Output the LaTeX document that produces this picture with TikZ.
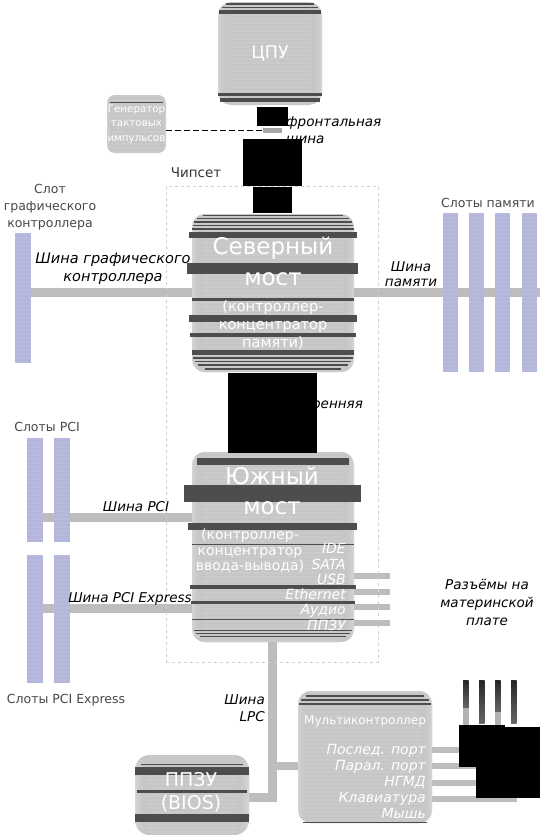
\documentclass[tikz,border=0pt]{standalone}
\usepackage{fontspec}
\setmainfont{DejaVu Sans}
\usetikzlibrary{calc}
\definecolor{chipgray}{HTML}{C6C6C6}
\definecolor{bardark}{HTML}{4D4D4D}
\definecolor{busgray}{HTML}{BDBDBD}
\definecolor{slotblue}{HTML}{B3B5DB}
\definecolor{dashgray}{HTML}{CFCFCF}
\begin{document}
\begin{tikzpicture}[x=1pt,y=-1pt,
  box/.style={inner sep=0pt, outer sep=0pt, anchor=north west},
  striped/.style={path picture={\foreach \k in {0,4,...,240}{\fill[white,opacity=0.07] ($(path picture bounding box.north west)+(0,\k)$) rectangle ($(path picture bounding box.north east)+(0,\k+2)$);}}},
  chip/.style={box, fill=chipgray, rounded corners=13pt, striped},
  slot/.style={box, fill=slotblue, striped},
  blk/.style={box, fill=black},
  bus/.style={draw=busgray, line width=#1},
  bus/.default=9pt,
  dk/.style={fill=bardark},
  wt/.style={text=white, align=center, inner sep=0pt},
  lab/.style={font=\itshape\fontsize{13.5}{18}\selectfont, align=center, inner sep=0pt},
  slab/.style={font=\fontsize{12.5}{17}\selectfont, text=black!72, align=center, inner sep=0pt},
]
\useasboundingbox (0,0) rectangle (540,835);

% ---------- chips (nodes) ----------
\node[chip, minimum width=104, minimum height=103] (cpu) at (218,2) {};
\node[chip, minimum width=59, minimum height=58, rounded corners=8pt] (clk) at (107,95) {};
\node[chip, minimum width=162, minimum height=158] (nb) at (192,214) {};
\node[chip, minimum width=162, minimum height=190] (sb) at (192,452) {};
\node[chip, minimum width=134, minimum height=132] (mc) at (298,691) {};
\node[chip, minimum width=114, minimum height=80, rounded corners=15pt] (bios) at (135,755) {};

% ---------- buses ----------
\coordinate (pcibus) at (35,517);
\coordinate (pciebus) at (35,608);
\coordinate (membus) at (540,292);
\coordinate (lpcend) at (272.5,802);
\coordinate (lpcmc) at (272.5,766);
\draw[bus] (23,292) -- (nb.west |- membus);
\draw[bus] (nb.east |- membus) -- (membus);
\draw[bus] (pcibus) -- (sb.west |- pcibus);
\draw[bus] (pciebus) -- (sb.west |- pciebus);
\foreach \yy/\nm in {576/ca,592/cb,607/cc,623/cd}{
  \coordinate (\nm) at (390,\yy);
  \draw[bus=6pt] (sb.east |- \nm) -- (\nm);
}
\draw[bus] (sb.south -| lpcend) -- (lpcend);
\draw[bus=8pt] (lpcmc) -- (mc.west |- lpcmc);
\draw[bus] (bios.east |- 0,797.5) -- (lpcend |- 0,797.5);
\foreach \yy/\nm in {750/ma,766/mb,783/mcc,799/md}{
  \coordinate (\nm) at (517,\yy);
  \draw[bus=6pt] (mc.east |- \nm) -- (\nm);
}

% redraw chip bodies over the buses
\node[chip, minimum width=162, minimum height=158] at (192,214) {};
\node[chip, minimum width=162, minimum height=190] at (192,452) {};
\node[chip, minimum width=134, minimum height=132] at (298,691) {};
\node[chip, minimum width=114, minimum height=80, rounded corners=15pt] at (135,755) {};

% slots
\node[slot, minimum width=16, minimum height=130] (agp) at (15,233) {};
\foreach \xx/\nm in {443/mema,469/memb,495/memc,522/memd}
  \node[slot, minimum width=15, minimum height=159] (\nm) at (\xx,213) {};
\node[slot, minimum width=16, minimum height=104] (pcia) at (27,438) {};
\node[slot, minimum width=16, minimum height=104] (pcib) at (54,438) {};
\node[slot, minimum width=16, minimum height=128] (pciea) at (27,555) {};
\node[slot, minimum width=16, minimum height=128] (pcieb) at (54,555) {};

% chipset frame
\node[box, draw=dashgray, dashed, line width=0.8pt, minimum width=212, minimum height=476] (chipset) at (166,186) {};
\node[font=\fontsize{13.5}{16}\selectfont, text=black!80, inner sep=0pt] (chiplbl) at (196,173) {Чипсет};

% ---------- dark bars ----------
% CPU
\fill[dk] (226,3) rectangle (314,4.5);
\fill[dk] (222,6.5) rectangle (318,8);
\fill[dk] (219,9.5) rectangle (321,14);
\fill[dk] (218,92.5) rectangle (322,95.5);
\fill[dk] (220,97.5) rectangle (320,102);
% clock
\fill[dk] (110,101.5) rectangle (163,103);
% north bridge
\fill[dk] (203,214.5) rectangle (343,216);
\fill[dk] (197,217.5) rectangle (349,219);
\fill[dk] (194,221) rectangle (352,222.5);
\fill[dk] (193,224.5) rectangle (353,226);
\fill[dk] (192,228) rectangle (354,229.5);
\fill[dk] (189,232) rectangle (357,238);
\fill[dk] (187,263) rectangle (358,274);
\fill[dk] (192,298) rectangle (354,300.5);
\fill[dk] (189,315) rectangle (357,322);
\fill[dk] (190,333) rectangle (356,337);
\fill[dk] (192,350) rectangle (354,355);
\fill[dk] (193,357) rectangle (353,358.5);
\fill[dk] (195,360.5) rectangle (351,362);
\fill[dk] (198,364) rectangle (348,365.5);
\fill[dk] (205,368) rectangle (341,369.5);
% south bridge
\fill[dk] (197,458) rectangle (349,465);
\fill[dk] (184,485) rectangle (361,502);
\fill[dk] (188,523) rectangle (357,530);
\fill[dk] (192,543.5) rectangle (354,545);
\fill[dk] (190,585) rectangle (356,588.5);
\fill[dk] (191,601) rectangle (355,604);
\fill[dk] (192,618.5) rectangle (354,620);
\fill[dk] (194,629.5) rectangle (352,631);
\fill[dk] (196,632.5) rectangle (350,634);
\fill[dk] (200,635.5) rectangle (346,637);
% multicontroller
\fill[dk] (306,695) rectangle (424,696.5);
\fill[dk] (301,699) rectangle (429,700.5);
\fill[dk] (299,703) rectangle (431,704.5);
\fill[dk] (303,821.5) rectangle (427,823);
% BIOS
\fill[dk] (141,763.5) rectangle (243,764.7);
\fill[dk] (135,767) rectangle (249,775);
\fill[dk] (137,789.5) rectangle (247,793);
\fill[dk] (135,814) rectangle (249,822);

% ---------- texts in chips ----------
\node[wt, font=\fontsize{17.5}{20}\selectfont] (cput) at (cpu.center) {ЦПУ};
\node[wt, font=\fontsize{10.3}{14.5}\selectfont] (clkt) at (clk.center) {Генератор\\тактовых\\импульсов};
\node[wt, font=\fontsize{23}{26}\selectfont] (nbt1) at (273,248) {Северный};
\node[wt, font=\fontsize{23}{26}\selectfont] (nbt2) at (273,279) {мост};
\node[wt, font=\fontsize{14.5}{18}\selectfont] (nbt3) at (273,325) {(контроллер-\\концентратор\\памяти)};
\node[wt, font=\fontsize{23}{26}\selectfont] (sbt1) at (272,476) {Южный};
\node[wt, font=\fontsize{23}{26}\selectfont] (sbt2) at (272,508) {мост};
\node[wt, font=\fontsize{14}{15.5}\selectfont] (sbt3) at (250,551) {(контроллер-\\концентратор\\ввода-вывода)};
\node[wt, align=right, anchor=east, font=\itshape\fontsize{14}{15.3}\selectfont] (sbports) at (346,587) {IDE\\SATA\\USB\\Ethernet\\Аудио\\ППЗУ};
\node[wt, font=\fontsize{12}{14}\selectfont] (mct) at (365,721) {Мультиконтроллер};
\node[wt, align=right, anchor=east, font=\itshape\fontsize{14}{16}\selectfont] (mcports) at (426,781) {Послед. порт\\Парал. порт\\НГМД\\Клавиатура\\Мышь};
\node[wt, font=\fontsize{19}{23}\selectfont] (biost) at (191,792) {ППЗУ\\(BIOS)};

% ---------- labels ----------
\node[lab, font=\itshape\fontsize{14.5}{18}\selectfont] (agpbusl) at (113,269) {Шина графического\\контроллера};
\node[lab, font=\itshape\fontsize{13.5}{15}\selectfont] (membusl) at (411,274) {Шина\\памяти};
\node[lab] (pcibusl) at (136,507) {Шина PCI};
\node[lab] (pciebusl) at (130,599) {Шина PCI Express};
\node[lab, align=right, anchor=east, font=\itshape\fontsize{13.5}{17}\selectfont] (lpcl) at (265,708) {Шина\\LPC};
\node[lab] (connl) at (487,602) {Разъёмы на\\материнской\\плате};
\node[lab, align=left, anchor=west, font=\itshape\fontsize{13.5}{17}\selectfont] (fsbl) at (286,130) {фронтальная\\шина};
\node[lab, align=left, anchor=west, font=\itshape\fontsize{13.5}{16}\selectfont] (intl) at (278,412) {Внутренняя\\шина};
\node[slab] (agpl) at (50,207) {Слот\\графического\\контроллера};
\node[slab] (meml) at (488,203) {Слоты памяти};
\node[slab] (pcil) at (47,427) {Слоты PCI};
\node[slab] (pciel) at (66,700) {Слоты PCI Express};

% ---------- black blocks ----------
\node[blk, minimum width=31, minimum height=19] (fsba) at (257,107) {};
\node[box, fill=black!35, minimum width=19, minimum height=5] (fsbg) at (263,128) {};
\node[blk, minimum width=59, minimum height=47] (fsbb) at (243,139) {};
\node[blk, minimum width=39, minimum height=26] (fsbc) at (253,187) {};
\node[blk, minimum width=89, minimum height=80] (intb) at (228,373) {};
\draw[black, line width=1.3pt, dash pattern=on 6pt off 3pt] (clk.east |- fsbg.west) -- (fsbg.west);
\foreach \xx/\ya/\yb in {463/708/725,479/723/723,495/712/725,511/723/723}{
  \shade[top color=black!85, bottom color=black!60] (\xx,680) rectangle (\xx+5.5,\ya);
  \fill[black!30] (\xx,\ya) rectangle (\xx+5.5,\yb);
}
\node[blk, minimum width=46, minimum height=42] (pa) at (459,725) {};
\node[blk, minimum width=64, minimum height=71] (pb) at (476,727) {};
\end{tikzpicture}
\end{document}
